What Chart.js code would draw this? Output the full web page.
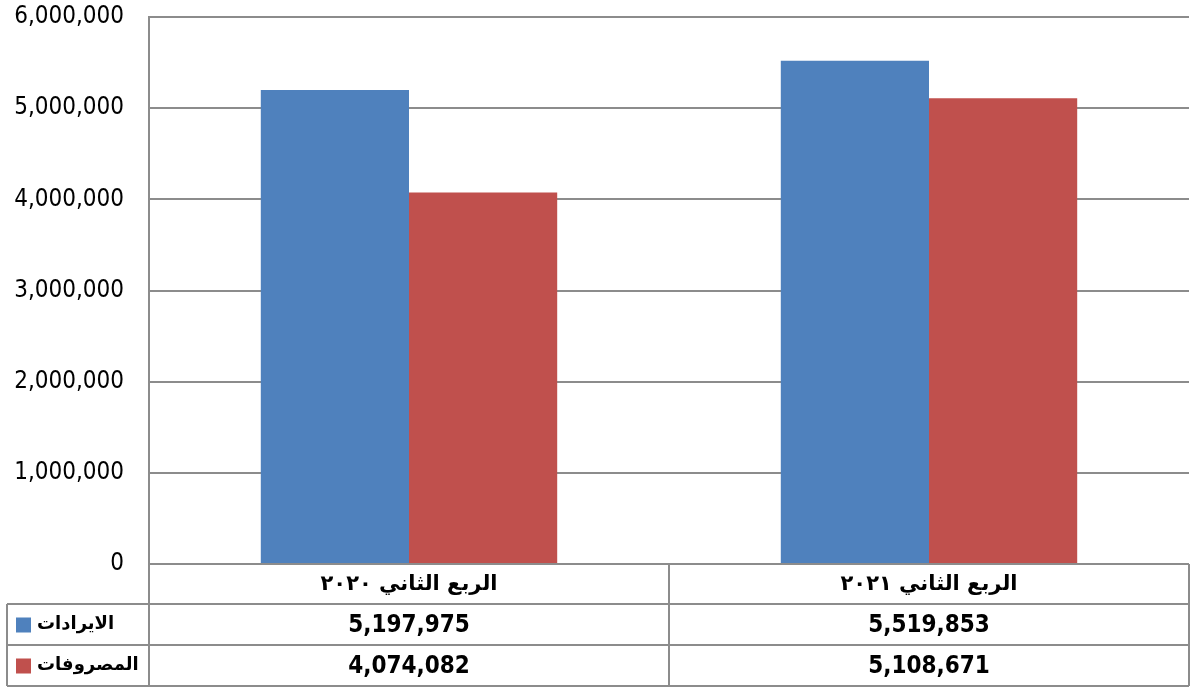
<!DOCTYPE html>
<html>
<head>
<meta charset="utf-8">
<script src="https://cdn.jsdelivr.net/npm/chart.js@4"></script>
<style>
  html, body { margin: 0; padding: 0; background: #fff; }
  #wrap { width: 1193px; height: 688px; }
</style>
</head>
<body>
<div id="wrap"><canvas id="grafico" width="1193" height="688"></canvas></div>
<script>
// Dados do gráfico
const categorias = ["الربع الثاني ٢٠٢٠", "الربع الثاني ٢٠٢١"];
const nomesSeries = ["الايرادات", "المصروفات"];
const receitas = [5197975, 5519853];
const despesas = [4074082, 5108671];
const coresSeries = ["#4F81BD", "#C0504D"];
const eixoMin = 0;
const eixoMax = 6000000;
const eixoPasso = 1000000;

const corLinha = "#8c8c8c";
const fonteNum = "'DejaVu Sans Condensed', 'DejaVu Sans', sans-serif";
const fonteArabe = "'DejaVu Sans', sans-serif";

// Plugin que desenha a tabela de dados abaixo do gráfico
const tabelaDados = {
	id: "tabelaDados",
	afterDraw(chart) {
		const ctx = chart.ctx;
		const x = chart.scales.x;
		const area = chart.chartArea;
		const n = chart.data.labels.length;
		const larg = (area.right - area.left) / n;
		const yTopo = area.bottom;
		const linhas = [yTopo, yTopo + 40, yTopo + 81, yTopo + 122];
		const esq = 7;

		ctx.save();
		ctx.strokeStyle = corLinha;
		ctx.lineWidth = 2;
		ctx.beginPath();
		// horizontais
		for (let i = 1; i < linhas.length; i++) {
			ctx.moveTo(esq, linhas[i]);
			ctx.lineTo(area.right, linhas[i]);
		}
		// verticais
		ctx.moveTo(esq, linhas[1]);
		ctx.lineTo(esq, linhas[3]);
		for (let i = 0; i <= n; i++) {
			const px = area.left + larg * i;
			ctx.moveTo(px, linhas[0]);
			ctx.lineTo(px, linhas[3]);
		}
		ctx.stroke();

		ctx.fillStyle = "#000";
		ctx.textBaseline = "middle";

		// cabeçalho das categorias
		ctx.direction = "rtl";
		ctx.textAlign = "center";
		ctx.font = "bold 21px " + fonteArabe;
		chart.data.labels.forEach((lab, i) => {
			ctx.fillText(lab, x.getPixelForValue(i), (linhas[0] + linhas[1]) / 2 + 1);
		});

		// linhas das séries
		chart.data.datasets.forEach((ds, r) => {
			const yc = (linhas[r + 1] + linhas[r + 2]) / 2;
			ctx.fillStyle = ds.backgroundColor;
			ctx.fillRect(16, yc - 7, 15, 15);
			ctx.fillStyle = "#000";
			ctx.direction = "rtl";
			ctx.textAlign = "left";
			ctx.font = "bold 18px " + fonteArabe;
			ctx.fillText(ds.label, 37, yc);
			ctx.direction = "ltr";
			ctx.textAlign = "center";
			ctx.font = "bold 24px " + fonteNum;
			ds.data.forEach((v, i) => {
				ctx.fillText(v.toLocaleString("en-US"), x.getPixelForValue(i), yc + 1);
			});
		});
		ctx.restore();
	},
};

let barras = new Chart(document.getElementById("grafico"), {
	type: "bar",
	data: {
		labels: categorias,
		datasets: [
			{ label: nomesSeries[0], data: receitas, backgroundColor: coresSeries[0] },
			{ label: nomesSeries[1], data: despesas, backgroundColor: coresSeries[1] },
		],
	},
	options: {
		responsive: false,
		animation: false,
		devicePixelRatio: 1,
		categoryPercentage: 0.57,
		barPercentage: 1,
		layout: {
			padding: { left: 0, right: 4, top: 17, bottom: 124 },
		},
		plugins: {
			legend: { display: false },
			tooltip: { enabled: false },
		},
		scales: {
			x: { display: false },
			y: {
				min: eixoMin,
				max: eixoMax,
				afterFit: (s) => {
					s.width = 149;
					s.paddingTop = 0;
					s.paddingBottom = 0;
				},
				ticks: {
					stepSize: eixoPasso,
					padding: 25,
					color: "#000",
					font: { family: fonteNum, size: 24 },
					callback: (v) => v.toLocaleString("en-US"),
				},
				grid: { color: corLinha, lineWidth: 2, drawTicks: false },
				border: { color: corLinha, width: 2 },
			},
		},
	},
	plugins: [tabelaDados],
});
</script>
</body>
</html>
